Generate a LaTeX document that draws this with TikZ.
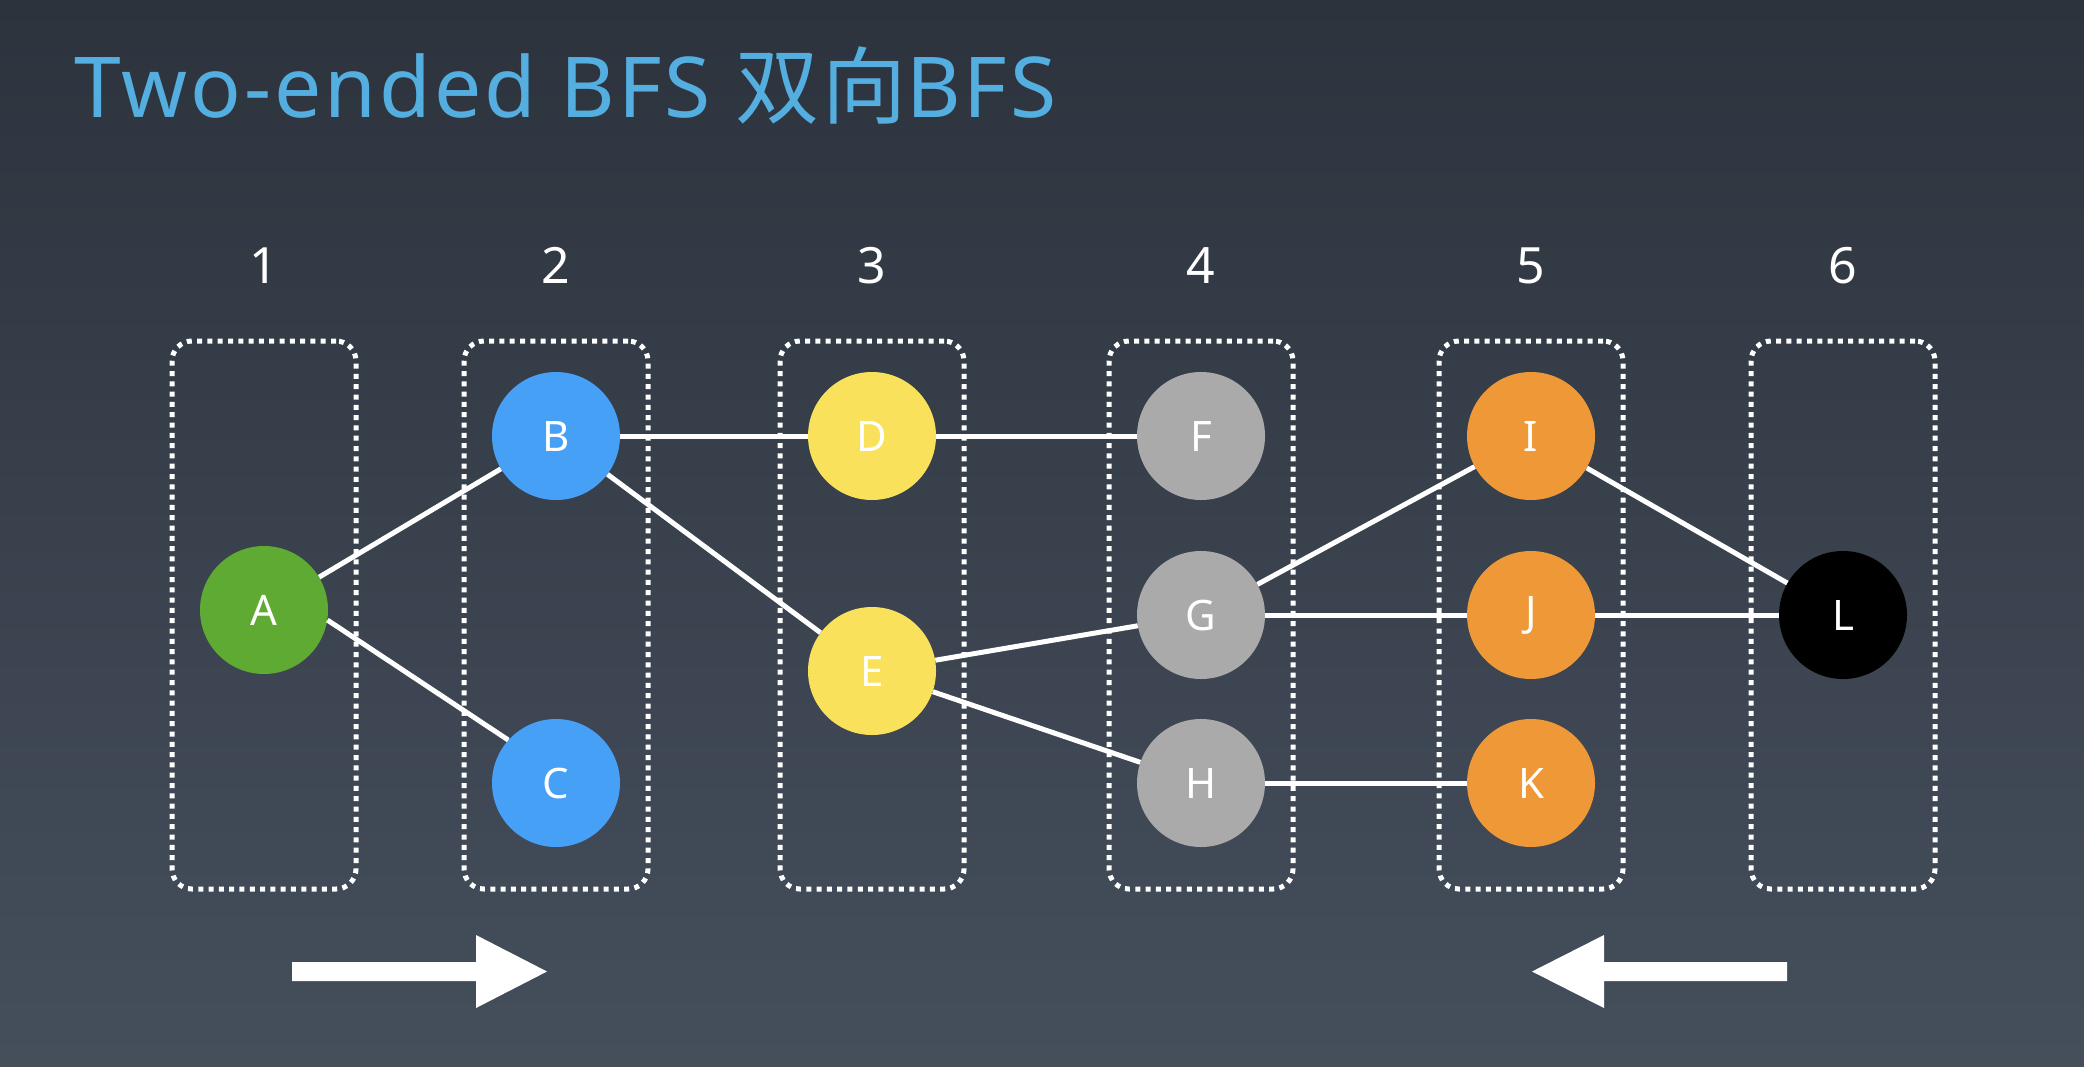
\documentclass[tikz,border=0pt]{standalone}
\usepackage{fontspec}
\setmainfont{Noto Sans}
\newfontfamily\cjk{Noto Sans CJK SC}
\definecolor{bgtop}{RGB}{44,51,61}
\definecolor{bgbot}{RGB}{69,79,92}
\definecolor{titleblue}{RGB}{85,174,224}
\definecolor{cgreen}{RGB}{94,170,51}
\definecolor{cblue}{RGB}{70,160,245}
\definecolor{cyellow}{RGB}{249,225,91}
\definecolor{cgray}{RGB}{170,170,170}
\definecolor{corange}{RGB}{238,152,55}
\begin{document}
\begin{tikzpicture}[x=1pt,y=-1pt,
  vert/.style={circle,minimum size=128pt,inner sep=0pt,text=white,font=\fontsize{42}{42}\selectfont},
  layerbox/.style={draw=white,line width=5pt,dash pattern=on 5pt off 5.3pt,rounded corners=20pt,minimum width=184pt,minimum height=548pt,inner sep=0pt},
  collabel/.style={text=white,font=\fontsize{50}{50}\selectfont,anchor=base,inner sep=0pt},
  edge/.style={draw=white,line width=5pt},
  bigarrow/.style={fill=white}]
\useasboundingbox (0,0) rectangle (2084,1066);
\shade[top color=bgtop,bottom color=bgbot] (0,0) rectangle (2084,1066);
\node[anchor=base west,inner sep=0pt,text=titleblue,font=\fontsize{84}{84}\selectfont\addfontfeature{LetterSpace=3.4}] (title) at (74,117) {Two-ended BFS {\cjk\addfontfeature{LetterSpace=3.4}双向}BFS};
% layer boxes
\foreach \n/\x in {1/264,2/556,3/872,4/1201,5/1531,6/1843}{
  \node[layerbox] (box\n) at (\x,615) {};
  \node[collabel] (lab\n) at (\x,283) {\n};
}
% vertices
\node[vert,fill=cgreen] (A) at (264,610) {A};
\node[vert,fill=cblue] (B) at (556,436) {B};
\node[vert,fill=cblue] (C) at (556,783) {C};
\node[vert,fill=cyellow] (D) at (872,436) {D};
\node[vert,fill=cyellow] (E) at (872,671) {E};
\node[vert,fill=cgray] (F) at (1201,436) {F};
\node[vert,fill=cgray] (G) at (1201,615) {G};
\node[vert,fill=cgray] (H) at (1201,783) {H};
\node[vert,fill=corange] (I) at (1531,436) {I};
\node[vert,fill=corange] (J) at (1531,615) {J};
\node[vert,fill=corange] (K) at (1531,783) {K};
\node[vert,fill=black] (L) at (1843,615) {L};
% edges
\foreach \a/\b in {A/B,B/D,B/E,D/F,E/G,E/H,G/I,G/J,H/K,I/L,J/L}{
  \draw[edge] (\a) -- (\b);
}
\draw[edge] (A.-9) -- (C.138);
% direction arrows
\fill[bigarrow] (292,962) -- (476,962) -- (476,935) -- (547,971.5) -- (476,1008) -- (476,981) -- (292,981) -- cycle;
\fill[bigarrow] (1787,962) -- (1604,962) -- (1604,935) -- (1532,971.5) -- (1604,1008) -- (1604,981) -- (1787,981) -- cycle;
\end{tikzpicture}
\end{document}
